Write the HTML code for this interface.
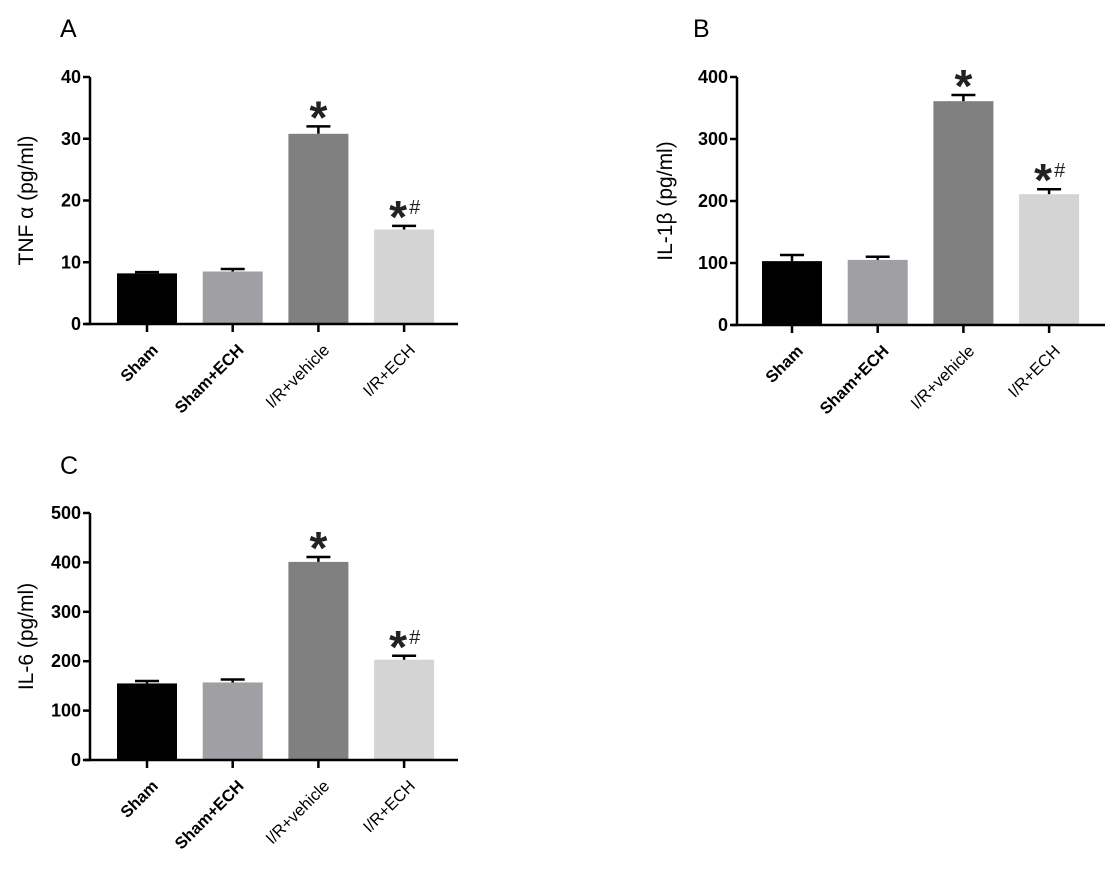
<!DOCTYPE html>
<html><head><meta charset="utf-8"><style>
body{margin:0;background:#fff;}
svg{display:block;font-family:"Liberation Sans",Arial,sans-serif;}
</style></head><body>
<svg id="fig" width="1114" height="875" viewBox="0 0 1114 875"></svg>
<script>
const categories=["Sham","Sham+ECH","I/R+vehicle","I/R+ECH"];
const boldCat=[true,true,false,false];
const colors=["#000000","#a0a0a4","#808080","#d4d4d4"];
const tnfValues=[8.2,8.5,30.8,15.3];
const tnfErr=[0.2,0.4,1.2,0.6];
const tnfTicks=[0,10,20,30,40];
const il1Values=[103,105,361,211];
const il1Err=[10,5,10,8];
const il1Ticks=[0,100,200,300,400];
const il6Values=[155,157,401,203];
const il6Err=[5,6,10,8];
const il6Ticks=[0,100,200,300,400,500];
const marks=["","","*","*#"];

const NS="http://www.w3.org/2000/svg";
const svg=document.getElementById('fig');
function mk(tag,attrs,parent){const e=document.createElementNS(NS,tag);for(const k in attrs)e.setAttribute(k,attrs[k]);(parent||svg).appendChild(e);return e;}

function panel(o){
  const g=mk('g',{});
  
  
  const ax=o.ax, top=o.top, bot=o.bot, max=o.ticks[o.ticks.length-1];
  const y=v=>bot-(v/max)*(bot-top);
  const xc=i=>ax+o.off+i*85.7;
  const lt=mk('text',{x:o.lx,y:o.ly,'font-size':25,fill:'#000'},g);lt.textContent=o.letter;
  
  
  o.values.forEach((v,i)=>{
    const cx=xc(i);
    const b=mk('rect',{x:cx-30,y:y(v),width:60,height:bot-y(v),fill:colors[i]},g);
    
    
    const et=y(v+o.err[i]);
    const eb=mk('path',{d:`M${cx} ${y(v)}V${et}M${cx-12} ${et}H${cx+12}`,stroke:'#000','stroke-width':2.5,fill:'none'},g);
    
    
    if(marks[i]){
      const two=marks[i].length>1;
      const t=mk('text',{x:two?cx-6:cx,y:et+7,'font-size':46,'font-weight':'bold',fill:'#222','text-anchor':'middle'},g);
      t.textContent='*';
      
      
      if(two){
        const h=mk('text',{x:cx+5,y:et-12,'font-size':20,fill:'#222'},g);h.textContent='#';
        
        
      }
    }
    const lx=cx+12, ly=bot+27;
    const lab=mk('text',{x:lx,y:ly,'font-size':16.5,'font-weight':boldCat[i]?'bold':'normal',fill:'#000','text-anchor':'end',transform:`rotate(-45 ${lx} ${ly})`},g);
    lab.textContent=categories[i];
    
    
    mk('line',{x1:cx,x2:cx,y1:bot,y2:bot+8,stroke:'#000','stroke-width':2.5},g);
  });
  const axes=mk('path',{d:`M${ax} ${top}V${bot}M${ax-5} ${bot}H${o.right}`,stroke:'#000','stroke-width':2.5,fill:'none'},g);
  
  
  o.ticks.forEach(t=>{
    mk('line',{x1:ax-7,x2:ax,y1:y(t),y2:y(t),stroke:'#000','stroke-width':2.5},g);
    const tl=mk('text',{x:ax-9,y:y(t)+6,'font-size':18,'font-weight':'bold','text-anchor':'end',fill:'#000'},g);
    tl.textContent=t;
    
    
  });
  const yt=mk('text',{x:o.tx,y:(top+bot)/2,'font-size':21,'text-anchor':'middle',fill:'#000',transform:`rotate(-90 ${o.tx} ${(top+bot)/2})`},g);
  yt.textContent=o.title;
  
  
}
panel({name:'panel-a-tnf',letter:'A',lx:60,ly:37,ax:90,off:57,right:458,top:77,bot:324,values:tnfValues,err:tnfErr,ticks:tnfTicks,title:'TNF \u03b1  (pg/ml)',tx:33});
panel({name:'panel-b-il1b',letter:'B',lx:693,ly:37,ax:737,off:55,right:1105,top:77,bot:325,values:il1Values,err:il1Err,ticks:il1Ticks,title:'IL-1\u03b2  (pg/ml)',tx:672});
panel({name:'panel-c-il6',letter:'C',lx:60,ly:474,ax:90,off:57,right:458,top:513,bot:760,values:il6Values,err:il6Err,ticks:il6Ticks,title:'IL-6 (pg/ml)',tx:33});
</script>
</body></html>
